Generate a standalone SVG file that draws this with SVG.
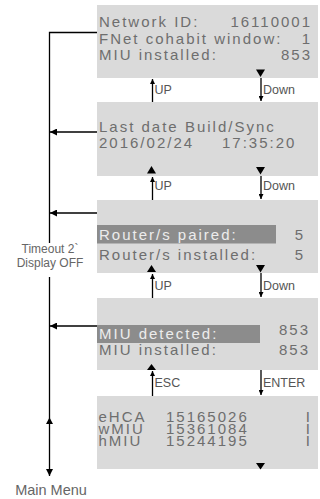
<svg xmlns="http://www.w3.org/2000/svg" width="320" height="499" viewBox="0 0 320 499">
<defs>
<style>
.box{fill:#dadada}
.hl{fill:#8c8c8c}
.t{font-family:"Liberation Sans",Arial,sans-serif;font-size:15px;letter-spacing:2px;fill:#6e6e6e}
.tw{font-family:"Liberation Sans",Arial,sans-serif;font-size:15px;letter-spacing:2px;fill:#ececec}
.e{text-anchor:end}
.lbl{font-family:"Liberation Sans",Arial,sans-serif;font-size:12.5px;fill:#555}
.side{font-family:"Liberation Sans",Arial,sans-serif;font-size:12px;fill:#666;text-anchor:middle}
.mm{font-family:"Liberation Sans",Arial,sans-serif;font-size:14.5px;fill:#666;text-anchor:middle}
.ln{stroke:#000;stroke-width:1.3;fill:none}
.tri{fill:#000}
</style>
<marker id="ah" viewBox="0 0 10 10" refX="10" refY="5" markerWidth="5" markerHeight="5" orient="auto-start-reverse" markerUnits="userSpaceOnUse">
<path d="M0,0 L10,5 L0,10 z" fill="#000"/>
</marker>
<marker id="ahl" viewBox="0 0 10 10" refX="10" refY="5" markerWidth="7" markerHeight="7" orient="auto" markerUnits="userSpaceOnUse">
<path d="M0,0 L10,5 L0,10 z" fill="#000"/>
</marker>
</defs>

<g id="node1">
<rect class="box" x="97" y="5" width="221" height="73"/>
<text class="t" x="99" y="27">Network ID:</text>
<text class="t e" x="312" y="27">16110001</text>
<text class="t" x="99" y="43.5">FNet cohabit window:</text>
<text class="t e" x="312" y="43.5">1</text>
<text class="t" x="99" y="60">MIU installed:</text>
<text class="t e" x="312" y="60">853</text>
<path class="tri" d="M256,69.5 L265,69.5 L260.5,77 z"/>
</g>

<g id="node2">
<rect class="box" x="97" y="102" width="221" height="74"/>
<text class="t" x="99" y="131.7">Last date Build/Sync</text>
<text class="t" x="99" y="148.3">2016/02/24</text>
<text class="t" x="222" y="148.3">17:35:20</text>
<path class="tri" d="M147,173.5 L156,173.5 L151.5,166 z"/>
<path class="tri" d="M256,167 L265,167 L260.5,174.5 z"/>
</g>

<g id="node3">
<rect class="box" x="97" y="200" width="221" height="73"/>
<rect class="hl" x="97" y="225" width="179" height="18.5"/>
<text class="tw" x="99" y="240">Router/s paired:</text>
<text class="t e" x="305" y="240">5</text>
<text class="t" x="99" y="260">Router/s installed:</text>
<text class="t e" x="305" y="260">5</text>
<path class="tri" d="M147,272 L156,272 L151.5,265 z"/>
<path class="tri" d="M256,265 L265,265 L260.5,272.5 z"/>
</g>

<g id="node4">
<rect class="box" x="97" y="298" width="221" height="72"/>
<rect class="hl" x="97" y="325" width="163" height="18"/>
<text class="tw" x="99" y="339">MIU detected:</text>
<text class="t e" x="310" y="335">853</text>
<text class="t" x="99" y="355">MIU installed:</text>
<text class="t e" x="310" y="355">853</text>
<path class="tri" d="M147,370 L156,370 L151.5,364 z"/>
</g>

<g id="node5">
<rect class="box" x="97" y="396" width="221" height="73"/>
<text class="t" x="98.5" y="422">eHCA</text>
<text class="t" x="166" y="422">15165026</text>
<text class="t e" x="312" y="422">I</text>
<text class="t" x="98.5" y="434">wMIU</text>
<text class="t" x="166" y="434">15361084</text>
<text class="t e" x="312" y="434">I</text>
<text class="t" x="98.5" y="446">hMIU</text>
<text class="t" x="166" y="446">15244195</text>
<text class="t e" x="312" y="446">I</text>
<path class="tri" d="M256,463 L265,463 L260.5,469.5 z"/>
</g>

<g id="connectors">
<line class="ln" x1="152.5" y1="102" x2="152.5" y2="79" marker-end="url(#ah)"/>
<line class="ln" x1="261" y1="78" x2="261" y2="101" marker-end="url(#ah)"/>
<line class="ln" x1="152.5" y1="200" x2="152.5" y2="177" marker-end="url(#ah)"/>
<line class="ln" x1="261" y1="176" x2="261" y2="199" marker-end="url(#ah)"/>
<line class="ln" x1="152.5" y1="298" x2="152.5" y2="274" marker-end="url(#ah)"/>
<line class="ln" x1="261" y1="273" x2="261" y2="297" marker-end="url(#ah)"/>
<line class="ln" x1="152.5" y1="396" x2="152.5" y2="371" marker-end="url(#ah)"/>
<line class="ln" x1="261" y1="370" x2="261" y2="395" marker-end="url(#ah)"/>
<polyline class="ln" points="97,32.5 49.5,32.5 49.5,243"/>
<line class="ln" x1="97" y1="132" x2="50" y2="132" marker-end="url(#ahl)"/>
<line class="ln" x1="97" y1="213" x2="50" y2="213" marker-end="url(#ahl)"/>
<line class="ln" x1="97" y1="326" x2="50" y2="326" marker-end="url(#ahl)"/>
<line class="ln" x1="49.5" y1="277" x2="49.5" y2="476" marker-end="url(#ahl)"/>
<path class="tri" d="M46,424 L53,424 L49.5,417.5 z"/>
</g>

<g id="labels">
<text class="lbl" x="154.5" y="93.5">UP</text>
<text class="lbl" x="263" y="93.5">Down</text>
<text class="lbl" x="154.5" y="190">UP</text>
<text class="lbl" x="263" y="190">Down</text>
<text class="lbl" x="154.5" y="290">UP</text>
<text class="lbl" x="263" y="290">Down</text>
<text class="lbl" x="154.5" y="387">ESC</text>
<text class="lbl" x="263" y="387">ENTER</text>
<text class="side" x="50" y="253">Timeout 2`</text>
<text class="side" x="50" y="267">Display OFF</text>
<text class="mm" x="51" y="495">Main Menu</text>
</g>
</svg>
